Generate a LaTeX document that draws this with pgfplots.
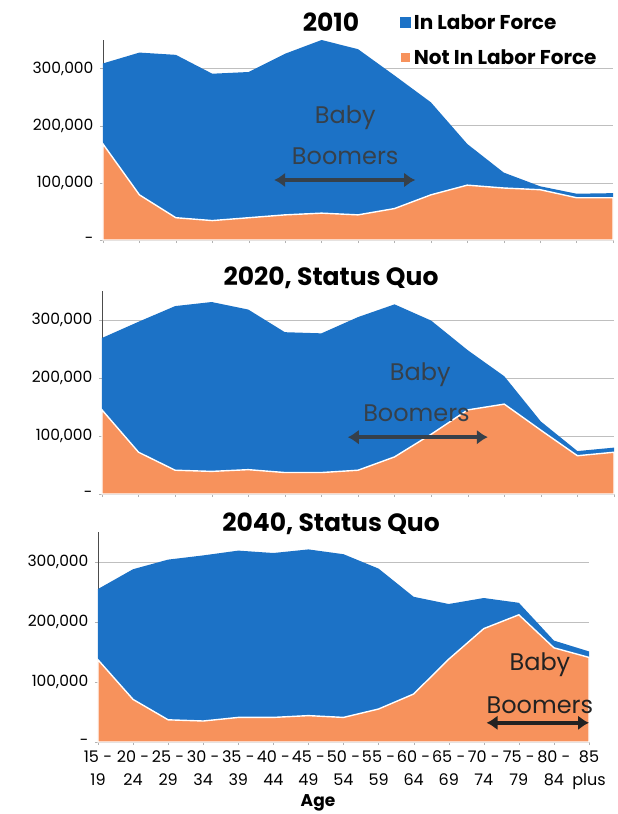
\documentclass[border=0pt]{standalone}
\usepackage{pgfplots}
\pgfplotsset{compat=1.18}
\usepackage{fontspec}
\setmainfont{Poppins}
\usetikzlibrary{arrows.meta}
\definecolor{lfblue}{HTML}{1C72C6}
\definecolor{nlforange}{HTML}{F7925C}
\definecolor{bbtext}{HTML}{36404A}
\definecolor{bbtextdark}{HTML}{222222}
\pgfplotsset{
  panel/.style={
    scale only axis, anchor=south west,
    xmin=0, xmax=14, ymin=0, ymax=350000,
    axis x line*=bottom, axis y line*=left,
    x axis line style={gray!60, -}, y axis line style={black!70, -},
    ytick={0,100000,200000,300000},
    yticklabels={-,{100,000},{200,000},{300,000}},
    scaled y ticks=false,
    ymajorgrids, grid style={gray!50, line width=0.7pt},
    xtick={0,...,14}, xticklabels={},
    tick style={gray!60}, major tick length=3pt, tick align=outside,
    yticklabel style={font=\fontsize{15.5}{15.5}\selectfont, xshift=-3pt},
    /pgf/number format/assume math mode=true,
    stack plots=y, clip=false,
  },
  overlay/.style={
    scale only axis, anchor=south west, hide axis, clip=false,
    xmin=0, xmax=14, ymin=0, ymax=350000,
  },
}
\tikzset{
  nlf/.style={fill=nlforange, draw=white, line width=1.4pt},
  lf/.style={fill=lfblue, draw=none},
  bb/.style={font=\fontsize{24}{24}\selectfont, text=#1},
  bbarrow/.style={{Latex[length=11pt,width=15pt]}-{Latex[length=11pt,width=15pt]}, line width=4.5pt, draw=#1},
}
\begin{document}
\begin{tikzpicture}
\path[use as bounding box] (0pt,0pt) rectangle (618pt,-814pt);

% ---------- 2010 ----------
\begin{axis}[panel, at={(103pt,-240pt)}, width=510pt, height=200pt,
  reverse legend,
  legend style={at={(0.575,1.15)}, anchor=north west, draw=none, fill=none,
    font=\fontsize{20}{22}\selectfont\bfseries, row sep=15pt, cells={anchor=west}},
  legend image code/.code={\fill[#1] (0pt,-5.5pt) rectangle (11pt,5.5pt);}]
\addplot[nlf] coordinates {(0,168000) (1,79000) (2,39000) (3,34000) (4,39000) (5,44000) (6,47000) (7,44000) (8,55000) (9,79000) (10,96000) (11,91000) (12,88000) (13,74000) (14,74000)} \closedcycle;
\addlegendentry{Not In Labor Force}
\addplot[lf] coordinates {(0,141000) (1,249000) (2,285000) (3,257000) (4,255000) (5,282000) (6,303000) (7,290000) (8,233000) (9,162000) (10,72000) (11,27000) (12,6000) (13,7000) (14,8000)} \closedcycle;
\addlegendentry{In Labor Force}
\end{axis}
\begin{axis}[overlay, at={(103pt,-240pt)}, width=510pt, height=200pt]
\node[bb=bbtext] at (axis cs:6.65,214000) {Baby};
\node[bb=bbtext] at (axis cs:6.65,146000) {Boomers};
\draw[bbarrow=bbtext] (axis cs:4.7,105000) -- (axis cs:8.57,105000);
\end{axis}
\node[font=\fontsize{25}{25}\selectfont\bfseries] at (331pt,-22pt) {2010};

% ---------- 2020 ----------
\begin{axis}[panel, at={(102pt,-494pt)}, width=512pt, height=203pt]
\addplot[nlf] coordinates {(0,145000) (1,72000) (2,41000) (3,39000) (4,42000) (5,37000) (6,37000) (7,41000) (8,64000) (9,103000) (10,145000) (11,155000) (12,110000) (13,66000) (14,72000)} \closedcycle;
\addplot[lf] coordinates {(0,124000) (1,225000) (2,283000) (3,292000) (4,276000) (5,242000) (6,240000) (7,264000) (8,263000) (9,196000) (10,103000) (11,48000) (12,15000) (13,8000) (14,8000)} \closedcycle;
\end{axis}
\begin{axis}[overlay, at={(102pt,-494pt)}, width=512pt, height=203pt]
\node[bb=bbtext] at (axis cs:8.7,205000) {Baby};
\node[bb=bbtext] at (axis cs:8.6,140000) {Boomers};
\draw[bbarrow=bbtext] (axis cs:6.72,98000) -- (axis cs:10.55,98000);
\end{axis}
\node[font=\fontsize{25}{25}\selectfont\bfseries] at (331pt,-278pt) {2020, Status Quo};

% ---------- 2040 ----------
\begin{axis}[panel, at={(98pt,-742pt)}, width=491pt, height=210pt,
  xticklabels={{15 -\\19},{20 -\\24},{25 -\\29},{30 -\\34},{35 -\\39},{40 -\\44},{45 -\\49},{50 -\\54},{55 -\\59},{60 -\\64},{65 -\\69},{70 -\\74},{75 -\\79},{80 -\\84},{85\\plus}},
  xticklabel style={align=center, font=\fontsize{16}{23}\selectfont, yshift=-2pt}]
\addplot[nlf] coordinates {(0,137000) (1,71000) (2,37000) (3,35000) (4,41000) (5,41000) (6,44000) (7,41000) (8,55000) (9,80000) (10,138000) (11,189000) (12,212000) (13,157000) (14,141000)} \closedcycle;
\addplot[lf] coordinates {(0,118000) (1,217000) (2,267000) (3,276000) (4,278000) (5,274000) (6,277000) (7,272000) (8,234000) (9,162000) (10,92000) (11,51000) (12,20000) (13,12000) (14,10000)} \closedcycle;
\end{axis}
\begin{axis}[overlay, at={(98pt,-742pt)}, width=491pt, height=210pt]
\node[bb=bbtextdark] at (axis cs:12.6,128000) {Baby};
\node[bb=bbtextdark] at (axis cs:12.6,62000) {Boomers};
\draw[bbarrow=bbtextdark] (axis cs:11.08,32000) -- (axis cs:14.0,32000);
\end{axis}
\node[font=\fontsize{25}{25}\selectfont\bfseries] at (331pt,-524pt) {2040, Status Quo};
\node[font=\fontsize{17}{17}\selectfont\bfseries] at (318pt,-803pt) {Age};
\end{tikzpicture}
\end{document}
